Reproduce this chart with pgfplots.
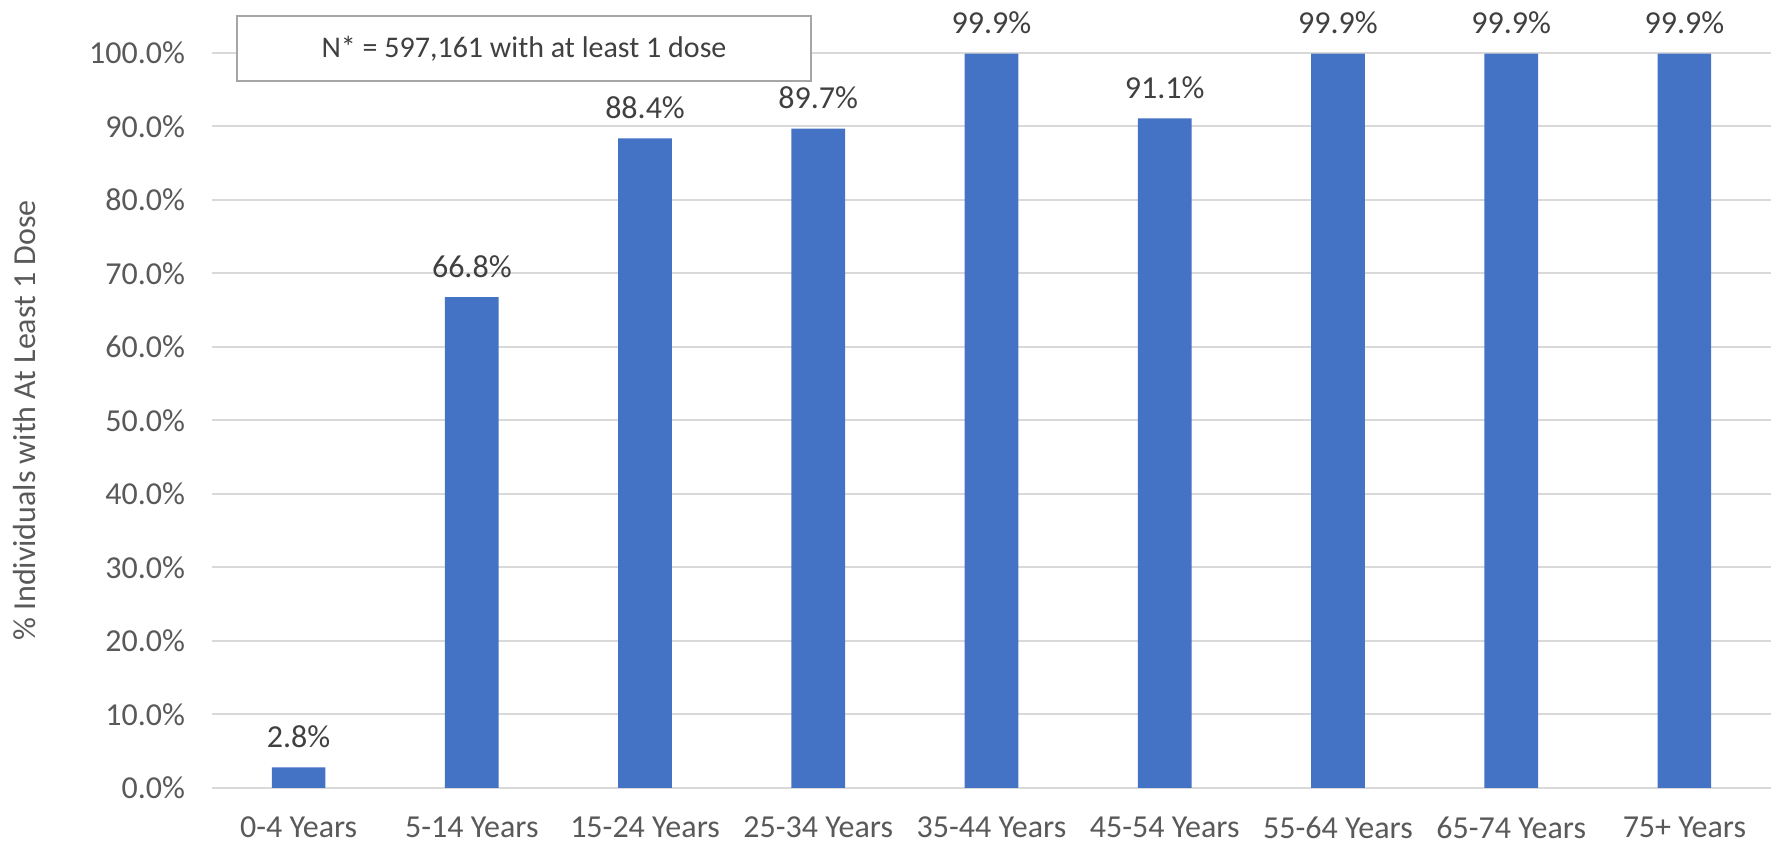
\documentclass[border=0pt]{standalone}
\usepackage{pgfplots}
\pgfplotsset{compat=1.18}
\usepackage{fontspec}
\setmainfont{Carlito}
\definecolor{barblue}{HTML}{4472C4}
\definecolor{gridgray}{HTML}{D9D9D9}
\definecolor{tickgray}{HTML}{595959}
\definecolor{labgray}{HTML}{404040}
\definecolor{boxgray}{HTML}{A6A6A6}

\begin{document}
\fontsize{16}{19}\selectfont
\begin{tikzpicture}
\begin{axis}[
    name=ax,
    scale only axis,
    width=779.5pt, height=367.5pt,
    clip=false,
    xmin=-0.5, xmax=8.5,
    ymin=0, ymax=100,
    ybar, bar width=0.31,
    axis line style={draw=none},
    major tick length=0pt,
    ymajorgrids,
    grid style={gridgray, line width=1pt},
    xtick={0,...,8},
    xticklabels={0-4 Years,5-14 Years,15-24 Years,25-34 Years,35-44 Years,45-54 Years,55-64 Years,65-74 Years,75+ Years},
    ytick={0,10,...,100},
    /pgf/number format/assume math mode=true,
    yticklabel={\pgfmathprintnumber[fixed,fixed zerofill,precision=1]{\tick}\%},
    tick label style={text=tickgray},
    yticklabel style={xshift=-8pt},
    xticklabel style={yshift=-9pt},
    nodes near coords={\pgfmathprintnumber[fixed,fixed zerofill,precision=1]{\pgfplotspointmeta}\%},
    every node near coord/.append style={text=labgray, yshift=4.25pt},
]
\addplot[fill=barblue, draw=none] coordinates {
    (0,2.8) (1,66.8) (2,88.4) (3,89.7) (4,99.9) (5,91.1) (6,99.9) (7,99.9) (8,99.9)
};
\node[draw=boxgray, line width=0.75pt, fill=white, text=labgray,
      minimum width=287pt, minimum height=32.5pt, inner sep=0pt,
      font=\fontsize{15}{18}\selectfont,
      xshift=156pt, yshift=2.25pt] at (rel axis cs:0,1)
      {N* = 597,161 with at least 1 dose};
\end{axis}
\node[rotate=90, text=tickgray] at ([xshift=-93.5pt]ax.west) {\% Individuals with At Least 1 Dose};
\pgfresetboundingbox
\path[use as bounding box] ([shift={(-106pt,-28.5pt)}]ax.south west) rectangle ([shift={(0pt,26.5pt)}]ax.north east);
\end{tikzpicture}
\end{document}
